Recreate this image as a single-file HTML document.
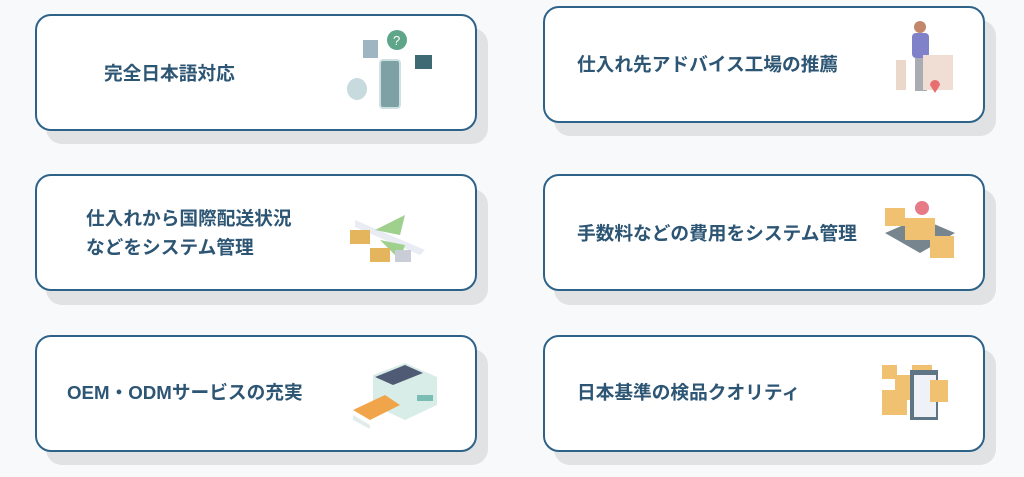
<!DOCTYPE html>
<html><head><meta charset="utf-8"><style>
html,body{margin:0;padding:0;width:1024px;height:477px;background:#f7f9fb;overflow:hidden;font-family:"Liberation Sans","Noto Sans CJK JP",sans-serif}
.sh{position:absolute;background:#e1e2e4;border-radius:16px}
.c{position:absolute;background:#fff;border:2.5px solid #2e6288;border-radius:16px;box-sizing:border-box}
.t{position:absolute;color:#2d5574;font-weight:bold;font-size:18.7px;line-height:29px;white-space:nowrap}
svg{position:absolute}
</style></head><body>
<div class="sh" style="left:46px;top:28px;width:442px;height:116px"></div>
<div class="sh" style="left:554px;top:20px;width:442px;height:116px"></div>
<div class="sh" style="left:46px;top:189px;width:442px;height:116px"></div>
<div class="sh" style="left:554px;top:189px;width:442px;height:116px"></div>
<div class="sh" style="left:46px;top:349px;width:442px;height:116px"></div>
<div class="sh" style="left:554px;top:349px;width:442px;height:116px"></div>
<div class="c" style="left:35px;top:14px;width:442px;height:117px"></div>
<div class="c" style="left:543px;top:6px;width:442px;height:117px"></div>
<div class="c" style="left:35px;top:174px;width:442px;height:117px"></div>
<div class="c" style="left:543px;top:174px;width:442px;height:117px"></div>
<div class="c" style="left:35px;top:335px;width:442px;height:117px"></div>
<div class="c" style="left:543px;top:335px;width:442px;height:117px"></div>
<div class="t" style="left:104px;top:59px">完全日本語対応</div>
<div class="t" style="left:577px;top:50px">仕入れ先アドバイス工場の推薦</div>
<div class="t" style="left:86px;top:204px">仕入れから国際配送状況<br>などをシステム管理</div>
<div class="t" style="left:577px;top:219px">手数料などの費用をシステム管理</div>
<div class="t" style="left:67px;top:378px">OEM・ODMサービスの充実</div>
<div class="t" style="left:577px;top:378px">日本基準の検品クオリティ</div>
<svg style="left:340px;top:25px" width="100" height="95">
<rect x="40" y="35" width="20" height="48" rx="3" fill="#7ea1a6" stroke="#cfe0e3" stroke-width="2"/>
<rect x="23" y="15" width="15" height="18" fill="#9fb6c2"/>
<circle cx="57" cy="15" r="10" fill="#5fa58a"/><text x="53" y="20" font-size="13" fill="#fff" font-family="Liberation Sans">?</text>
<rect x="75" y="30" width="17" height="14" fill="#3e6b73"/>
<ellipse cx="17" cy="64" rx="10" ry="11" fill="#c7dade"/>
</svg>
<svg style="left:890px;top:15px" width="70" height="90">
<circle cx="30" cy="12" r="6" fill="#c2866a"/>
<rect x="22" y="18" width="17" height="25" rx="4" fill="#7f82c9"/>
<rect x="25" y="43" width="12" height="33" fill="#a9adb3"/>
<rect x="6" y="45" width="10" height="30" fill="#ecd7cb"/>
<rect x="33" y="40" width="30" height="35" fill="#f0ddd4"/>
<path d="M40 70a5 5 0 1 1 10 0l-5 8z" fill="#e86f6f"/>
</svg>
<svg style="left:345px;top:205px" width="90" height="65">
<path d="M10 15 L80 45 L75 50 L10 22Z" fill="#e9ecf3"/>
<path d="M30 25 L60 10 L55 30Z" fill="#9fd08e"/>
<path d="M35 35 L55 55 L60 40Z" fill="#9fd08e"/>
<rect x="5" y="25" width="20" height="14" fill="#e5b55e"/>
<rect x="25" y="43" width="20" height="14" fill="#e5b55e"/>
<rect x="50" y="45" width="16" height="12" fill="#c9cdd6"/>
</svg>
<svg style="left:880px;top:198px" width="80" height="70">
<path d="M5 35 L40 20 L75 35 L40 55Z" fill="#77858f"/>
<rect x="5" y="10" width="20" height="18" fill="#f0c170"/>
<rect x="25" y="20" width="30" height="22" fill="#f0c170"/>
<rect x="50" y="38" width="24" height="22" fill="#f0c170"/>
<circle cx="42" cy="10" r="7" fill="#e67a86"/>
</svg>
<svg style="left:345px;top:355px" width="95" height="80">
<path d="M28 20 L60 8 L92 22 L92 50 L60 65 L28 50Z" fill="#d8ece8"/>
<path d="M30 22 L60 10 L78 18 L48 30Z" fill="#4f5b75"/>
<path d="M8 55 L40 40 L55 50 L25 65Z" fill="#f0a54a"/>
<path d="M8 60 L25 70 L25 74 L8 65Z" fill="#e3ecec"/>
<rect x="72" y="40" width="16" height="6" fill="#7bbcb5"/>
</svg>
<svg style="left:880px;top:355px" width="75" height="70">
<rect x="2" y="10" width="15" height="14" fill="#f0c170"/>
<rect x="15" y="20" width="30" height="25" fill="#f0c170"/>
<rect x="2" y="35" width="25" height="25" fill="#f0c170"/>
<rect x="32" y="10" width="20" height="15" fill="#f0c170"/>
<rect x="30" y="15" width="28" height="50" fill="#5d7584"/>
<rect x="34" y="20" width="22" height="42" fill="#eef1f5"/>
<rect x="50" y="25" width="18" height="22" fill="#f0c170"/>
</svg>
</body></html>
